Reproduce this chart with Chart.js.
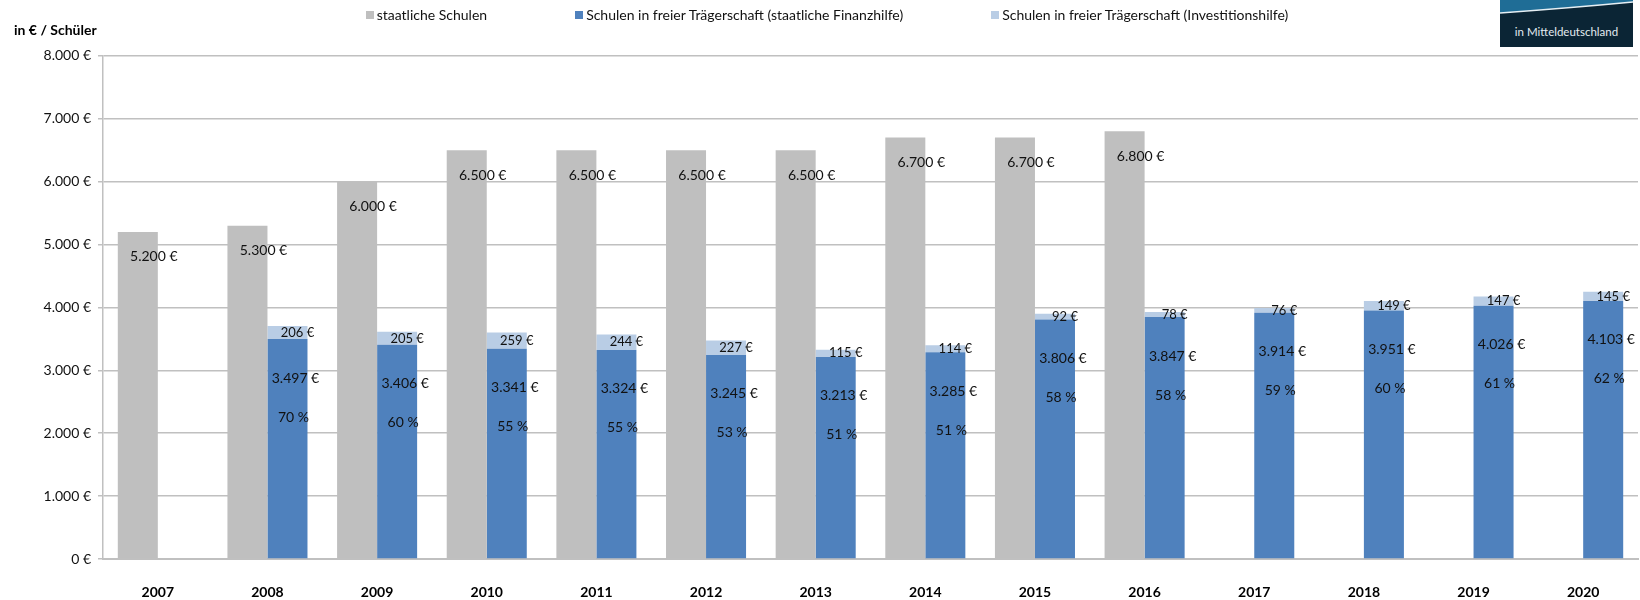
<!DOCTYPE html>
<html lang="de">
<head>
<meta charset="utf-8">
<title>Finanzierung je Schüler</title>
<script src="https://cdn.jsdelivr.net/npm/chart.js@4.4.1/dist/chart.umd.min.js"></script>
<style>
  html, body { margin: 0; padding: 0; background: #fff; }
  #wrap { position: relative; width: 1640px; height: 600px; font-family: Lato, 'Noto Sans', sans-serif; }
  #legend { position: absolute; top: 6px; left: 14px; right: 0; display: flex; justify-content: center; gap: 88px; font-size: 14px; color: #111; }
  #legend .item { display: flex; align-items: center; white-space: nowrap; }
  #legend .box { width: 8px; height: 8px; margin-right: 3px; }
  #logo { position: absolute; left: 1500px; top: 0; }
</style>
</head>
<body>
<div id="wrap">
  <canvas id="chart" width="1640" height="600"></canvas>
  <div id="legend"></div>
  <svg id="logo" width="133" height="47" viewBox="0 0 133 47">
    <rect width="133" height="47" fill="#0b2535"/>
    <path d="M0 0 H133 V2 Q70 8 0 13 Z" fill="#1f6d96"/>
    <path d="M0 13 Q70 8 133 2" stroke="#e6eff4" stroke-width="1.6" fill="none"/>
    <text x="66.5" y="36" text-anchor="middle" font-family="Lato, 'Noto Sans', sans-serif" font-size="11.5" fill="#e4ecf1">in Mitteldeutschland</text>
  </svg>
</div>
<script>
// Werte je Schüler (Euro)
const years = ['2007', '2008', '2009', '2010', '2011', '2012', '2013', '2014', '2015', '2016', '2017', '2018', '2019', '2020'];
const staatlich = [5200, 5300, 6000, 6500, 6500, 6500, 6500, 6700, 6700, 6800, null, null, null, null];
const finanzhilfe = [null, 3497, 3406, 3341, 3324, 3245, 3213, 3285, 3806, 3847, 3914, 3951, 4026, 4103];
const investition = [null, 206, 205, 259, 244, 227, 115, 114, 92, 78, 76, 149, 147, 145];
const anteil = [null, 70, 60, 55, 55, 53, 51, 51, 58, 58, 59, 60, 61, 62];
const yTicks = [0, 1000, 2000, 3000, 4000, 5000, 6000, 7000, 8000];

const FONT = "Lato, 'Noto Sans', sans-serif";
const GRID = '#c0c0c0';

// 6500 -> "6.500 €"
function euro(v) {
    return String(v).replace(/\B(?=(\d{3})+(?!\d))/g, '.') + ' €';
}

// draws the value labels inside / on the bars
const barLabels = {
    id: 'barLabels',
    afterDatasetsDraw(chart) {
        const ctx = chart.ctx;
        ctx.save();
        ctx.fillStyle = '#111';
        ctx.textAlign = 'center';
        ctx.textBaseline = 'middle';
        chart.data.datasets.forEach((ds, di) => {
            const meta = chart.getDatasetMeta(di);
            meta.data.forEach((bar, i) => {
                const v = ds.data[i];
                if (v == null) return;
                const { x, y, base, width } = bar.getProps(['x', 'y', 'base', 'width'], true);
                if (di === 0) {
                    ctx.font = '14px ' + FONT;
                    ctx.fillText(euro(v), x + width * 0.4, y + 25);
                } else if (di === 1) {
                    ctx.font = '14px ' + FONT;
                    ctx.fillText(euro(v), x + width * 0.2, y + 39);
                    if (anteil[i] != null) ctx.fillText(anteil[i] + ' %', x + width * 0.15, y + 78);
                } else {
                    ctx.font = '13px ' + FONT;
                    ctx.fillText(euro(v), x + width * 0.25, (y + base) / 2);
                }
            });
        });
        ctx.restore();
    }
};

const chart = new Chart(document.getElementById('chart'), {
    type: 'bar',
    data: {
        labels: years,
        datasets: [
            { label: 'staatliche Schulen', data: staatlich, backgroundColor: '#bfbfbf', stack: 'staat' },
            { label: 'Schulen in freier Trägerschaft (staatliche Finanzhilfe)', data: finanzhilfe, backgroundColor: '#4f81bd', stack: 'frei' },
            { label: 'Schulen in freier Trägerschaft (Investitionshilfe)', data: investition, backgroundColor: '#b9cde5', stack: 'frei' }
        ]
    },
    options: {
        responsive: false,
        animation: false,
        layout: { padding: { left: 14, right: 2, top: 0, bottom: 0 } },
        datasets: { bar: { categoryPercentage: 0.73, barPercentage: 1.0 } },
        plugins: {
            legend: { display: false },
            title: {
                display: true,
                text: 'in € / Schüler',
                align: 'start',
                color: '#000',
                font: { family: FONT, size: 14, weight: 'bold' },
                padding: { top: 22, bottom: 17 }
            },
            tooltip: { enabled: true }
        },
        scales: {
            x: {
                stacked: true,
                afterFit(scale) { scale.height = 41; },
                grid: { display: false, drawTicks: false },
                border: { display: true, color: GRID, width: 2 },
                ticks: { color: '#000', padding: 25, font: { family: FONT, size: 14, weight: 'bold' } }
            },
            y: {
                stacked: true,
                min: 0,
                max: 8000,
                afterFit(scale) { scale.width = 89; },
                afterBuildTicks(scale) { scale.ticks = yTicks.map(v => ({ value: v })); },
                grid: { color: GRID, lineWidth: 1.5, tickLength: 5 },
                border: { color: GRID, width: 1.5 },
                ticks: { color: '#111', padding: 7, font: { family: FONT, size: 14 }, callback: v => euro(v) }
            }
        }
    },
    plugins: [barLabels]
});

// legend built from the chart's datasets
const legendEl = document.getElementById('legend');
chart.data.datasets.forEach(ds => {
    const item = document.createElement('div');
    item.className = 'item';
    const box = document.createElement('span');
    box.className = 'box';
    box.style.background = ds.backgroundColor;
    item.appendChild(box);
    item.appendChild(document.createTextNode(ds.label));
    legendEl.appendChild(item);
});
</script>
</body>
</html>
